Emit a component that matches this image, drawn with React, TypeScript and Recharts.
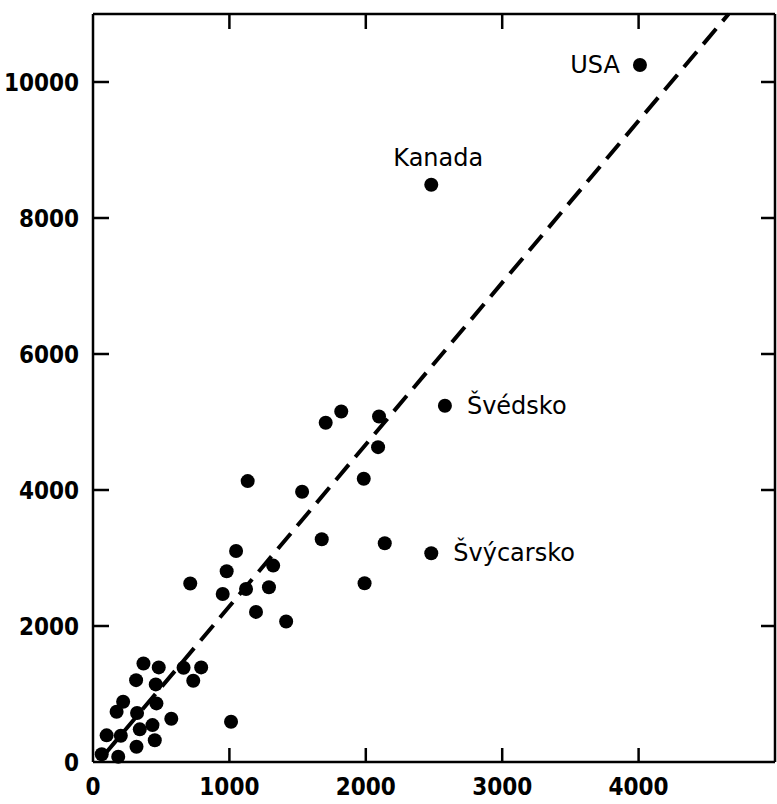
import React from 'react';
import { ScatterChart, Scatter, XAxis, YAxis } from 'recharts';

// countries: first four are the named ones
const countryNames = ['USA', 'Kanada', 'Švédsko', 'Švýcarsko'];
const countryX = [
  4010, 2480, 2580, 2480, 1706, 1820, 2097, 2090, 1134, 1533, 1985, 1677, 2139, 1991, 1049,
  713, 980, 951, 1122, 1321, 1290, 1195, 1416, 370, 482, 316, 460, 664, 793, 735,
  221, 173, 465, 323, 574, 1012, 100, 204, 343, 436, 453, 319, 64, 185,
];
const countryY = [
  10250, 8490, 5240, 3070, 4988, 5154, 5081, 4630, 4131, 3975, 4166, 3275, 3216, 2628, 3103,
  2624, 2805, 2471, 2545, 2888, 2570, 2207, 2066, 1449, 1391, 1204, 1141, 1385, 1391, 1194,
  885, 739, 862, 720, 636, 592, 392, 386, 480, 543, 319, 225, 113, 78,
];

// regression line end points
const trendX = [80, 4660];
const trendY = [100, 11000];

const xTicks = [0, 1000, 2000, 3000, 4000];
const yTicks = [0, 2000, 4000, 6000, 8000, 10000];

const points = countryX.map((x, i) => ({ x, y: countryY[i], name: countryNames[i] || '' }));
const trend = trendX.map((x, i) => ({ x, y: trendY[i] }));

const labelSide: Record<string, string> = {
  USA: 'left',
  Kanada: 'top',
  'Švédsko': 'right',
  'Švýcarsko': 'right',
};

const tickFont = {
  fill: '#000',
  fontSize: 24,
  fontWeight: 700,
  fontFamily: '"DejaVu Sans Condensed", sans-serif',
};
const labelFont = { fill: '#000', fontSize: 24, fontFamily: '"DejaVu Sans", sans-serif' };
const frame = { stroke: '#000', strokeWidth: 2.5 };
const noLabel = () => <g />;
const noShape = () => <g />;

function CountryDot(props: any) {
  const { cx, cy, payload } = props;
  const side = labelSide[payload.name];
  return (
    <g>
      <circle cx={cx} cy={cy} r={7} fill="#000" />
      {side === 'left' && (
        <text x={cx - 20} y={cy} textAnchor="end" dominantBaseline="central" {...labelFont}>
          {payload.name}
        </text>
      )}
      {side === 'right' && (
        <text x={cx + 22} y={cy} textAnchor="start" dominantBaseline="central" {...labelFont}>
          {payload.name}
        </text>
      )}
      {side === 'top' && (
        <text x={cx + 7} y={cy - 19} textAnchor="middle" {...labelFont}>
          {payload.name}
        </text>
      )}
    </g>
  );
}

export default function App() {
  return (
    <div style={{ position: 'absolute', left: 0, top: 0, background: '#fff' }}>
      <ScatterChart width={777} height={804} margin={{ top: 14, right: 2, bottom: 0, left: 0 }}>
        <XAxis
          xAxisId="b"
          dataKey="x"
          type="number"
          domain={[0, 5000]}
          ticks={xTicks}
          height={42}
          tickSize={0}
          tickMargin={16}
          tickLine={false}
          axisLine={frame}
          tick={tickFont}
        />
        <XAxis
          xAxisId="bIn"
          dataKey="x"
          type="number"
          orientation="bottom"
          mirror
          domain={[0, 5000]}
          ticks={xTicks.slice(1)}
          height={30}
          tickSize={14}
          tick={noLabel}
          tickLine={frame}
          axisLine={false}
        />
        <XAxis
          xAxisId="t"
          dataKey="x"
          type="number"
          orientation="top"
          mirror
          domain={[0, 5000]}
          ticks={xTicks.slice(1)}
          height={30}
          tickSize={15}
          tick={noLabel}
          tickLine={frame}
          axisLine={frame}
        />
        <YAxis
          yAxisId="l"
          dataKey="y"
          type="number"
          domain={[0, 11000]}
          ticks={yTicks}
          width={93}
          tickSize={0}
          tickMargin={14}
          tickLine={false}
          axisLine={frame}
          tick={tickFont}
        />
        <YAxis
          yAxisId="lIn"
          dataKey="y"
          type="number"
          orientation="left"
          mirror
          domain={[0, 11000]}
          ticks={yTicks.slice(1)}
          width={30}
          tickSize={16}
          tick={noLabel}
          tickLine={frame}
          axisLine={false}
        />
        <YAxis
          yAxisId="r"
          dataKey="y"
          type="number"
          orientation="right"
          mirror
          domain={[0, 11000]}
          ticks={yTicks.slice(1)}
          width={30}
          tickSize={14}
          tick={noLabel}
          tickLine={frame}
          axisLine={frame}
        />
        <Scatter
          xAxisId="bIn"
          yAxisId="lIn"
          data={trend}
          shape={noShape}
          isAnimationActive={false}
        />
        <Scatter
          xAxisId="t"
          yAxisId="r"
          data={trend}
          line={{ stroke: '#000', strokeWidth: 4, strokeDasharray: '20 10' }}
          shape={noShape}
          isAnimationActive={false}
        />
        <Scatter
          xAxisId="b"
          yAxisId="l"
          data={points}
          shape={CountryDot}
          isAnimationActive={false}
        />
      </ScatterChart>
    </div>
  );
}
